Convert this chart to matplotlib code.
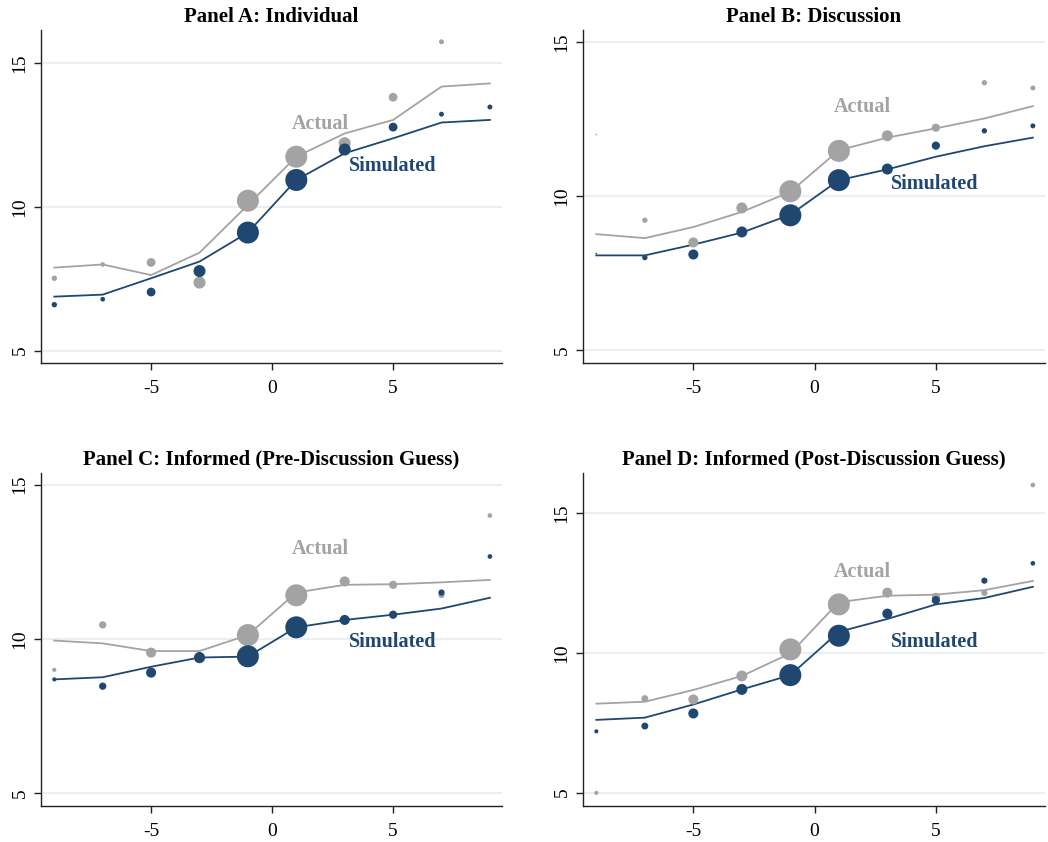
import matplotlib
matplotlib.use("Agg")
import matplotlib.pyplot as plt
import numpy as np

plt.rcParams['font.family'] = ['Liberation Serif', 'DejaVu Serif']

# bins of the x variable
x = [-9, -7, -5, -3, -1, 1, 3, 5, 7, 9]

titles = ["Panel A: Individual", "Panel B: Discussion",
          "Panel C: Informed (Pre-Discussion Guess)",
          "Panel D: Informed (Post-Discussion Guess)"]

# fitted lines
actual_line_a = [7.89, 8.00, 7.63, 8.41, 10.07, 11.75, 12.56, 13.03, 14.19, 14.30]
sim_line_a = [6.88, 6.95, 7.52, 8.10, 9.11, 10.94, 11.87, 12.39, 12.94, 13.03]
actual_line_b = [8.77, 8.64, 9.00, 9.49, 10.14, 11.49, 11.90, 12.20, 12.52, 12.92]
sim_line_b = [8.08, 8.08, 8.43, 8.82, 9.40, 10.52, 10.87, 11.28, 11.62, 11.90]
actual_line_c = [9.94, 9.85, 9.60, 9.60, 10.12, 11.50, 11.75, 11.77, 11.83, 11.91]
sim_line_c = [8.68, 8.75, 9.09, 9.39, 9.42, 10.37, 10.61, 10.78, 10.98, 11.33]
actual_line_d = [8.18, 8.25, 8.67, 9.17, 9.98, 11.81, 12.04, 12.08, 12.24, 12.57]
sim_line_d = [7.60, 7.68, 8.15, 8.69, 9.20, 10.75, 11.21, 11.73, 11.96, 12.36]

# binned means
actual_pts_a = [7.52, 8.00, 8.07, 7.37, 10.22, 11.75, 12.22, 13.82, 15.75, np.nan]
sim_pts_a = [6.60, 6.79, 7.04, 7.77, 9.11, 10.94, 12.00, 12.78, 13.23, 13.48]
actual_pts_b = [12.00, 9.22, 8.50, 9.62, 10.16, 11.47, 11.96, 12.22, 13.68, 13.51]
sim_pts_b = [8.14, 8.01, 8.11, 8.84, 9.38, 10.52, 10.88, 11.64, 12.12, 12.28]
actual_pts_c = [8.99, 10.45, 9.55, 9.38, 10.12, 11.41, 11.86, 11.75, 11.42, 14.00]
sim_pts_c = [8.68, 8.46, 8.90, 9.39, 9.43, 10.37, 10.61, 10.78, 11.50, 12.67]
actual_pts_d = [4.99, 8.36, 8.33, 9.17, 10.12, 11.73, 12.15, 12.00, 12.14, 16.00]
sim_pts_d = [7.19, 7.38, 7.83, 8.69, 9.20, 10.61, 11.40, 11.88, 12.58, 13.20]

# relative number of observations per bin (marker weights)
weights_a = [6, 4.5, 16, 30, 100, 100, 30, 16, 5, 5]
weights_b = [0.6, 6, 21, 25, 100, 100, 25, 14, 6, 5]
weights_c = [3.5, 11, 21, 25, 100, 100, 21, 14, 8, 4.5]
weights_d = [3.5, 10, 21, 25, 100, 100, 21, 14, 8, 4.5]

ylims = [(4.57, 16.16), (4.59, 15.39), (4.57, 15.38), (4.52, 16.43)]

panels = [
    (actual_line_a, sim_line_a, actual_pts_a, sim_pts_a, weights_a, 12.89, 11.43),
    (actual_line_b, sim_line_b, actual_pts_b, sim_pts_b, weights_b, 12.90, 10.41),
    (actual_line_c, sim_line_c, actual_pts_c, sim_pts_c, weights_c, 12.90, 9.90),
    (actual_line_d, sim_line_d, actual_pts_d, sim_pts_d, weights_d, 12.89, 10.39),
]

gray = '#A3A3A3'
navy = '#1F4770'
grid_c = '#E4EEF1'

fig = plt.figure(figsize=(10.48, 8.42), dpi=100)
W, H = 1048, 842
boxes = [(41, 30, 502, 363), (583, 30, 1045, 363),
         (41, 473, 502, 806), (583, 473, 1045, 806)]

for i, (al, sl, ap, sp, w, ya, ys) in enumerate(panels):
    l, t, r, b = boxes[i]
    ax = fig.add_axes([l / W, 1 - b / H, (r - l) / W, (b - t) / H])
    sizes = np.array(w) * 2.51
    ax.plot(x, al, color=gray, lw=1.3, zorder=2)
    ax.plot(x, sl, color=navy, lw=1.3, zorder=2)
    ax.scatter(x, ap, s=sizes, color=gray, edgecolors='none', zorder=3)
    ax.scatter(x, sp, s=sizes, color=navy, edgecolors='none', zorder=4)
    ax.text(1.98, ya, "Actual", color=gray, fontsize=14.5, fontweight='bold',
            ha='center', va='center', zorder=5)
    ax.text(4.97, ys, "Simulated", color=navy, fontsize=14.5, fontweight='bold',
            ha='center', va='center', zorder=5)

    ax.set_xlim(-9.55, 9.5)
    ax.set_ylim(*ylims[i])
    ax.set_xticks([-5, 0, 5])
    ax.set_xticklabels(['-5', '0', '5'], fontsize=14)
    ax.set_yticks([5, 10, 15])
    ax.set_yticklabels(['5', '10', '15'], fontsize=14, rotation=90, va='center')
    ax.grid(axis='y', color=grid_c, lw=1.2)
    ax.set_axisbelow(True)
    for s in ['top', 'right']:
        ax.spines[s].set_visible(False)
    for s in ['left', 'bottom']:
        ax.spines[s].set_color('#222222')
        ax.spines[s].set_linewidth(1.0)
    ax.tick_params(direction='out', length=5, width=1.0, color='#222222')
    ax.tick_params(axis='x', pad=7)
    ax.tick_params(axis='y', pad=4)
    ax.set_title(titles[i], fontsize=15, fontweight='bold', pad=6)

fig.savefig('out.png', dpi=100)
